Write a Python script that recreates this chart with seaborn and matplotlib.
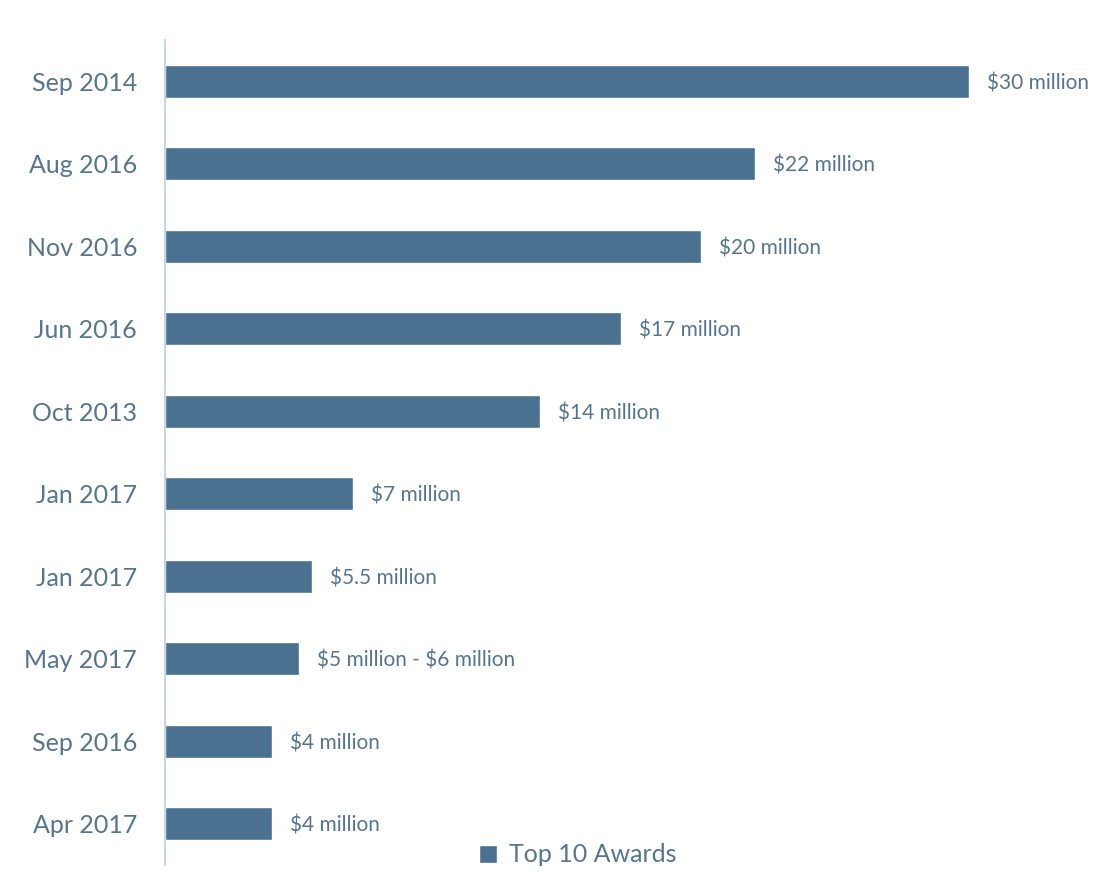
import matplotlib
matplotlib.use("Agg")
import matplotlib.pyplot as plt
import seaborn as sns
import pandas as pd

dates = ["Sep 2014", "Aug 2016", "Nov 2016", "Jun 2016", "Oct 2013",
         "Jan 2017", "Jan 2017", "May 2017", "Sep 2016", "Apr 2017"]
amounts = [30, 22, 20, 17, 14, 7, 5.5, 5, 4, 4]
amount_labels = ["$30 million", "$22 million", "$20 million", "$17 million",
                 "$14 million", "$7 million", "$5.5 million",
                 "$5 million - $6 million", "$4 million", "$4 million"]
series_name = "Top 10 Awards"

bar_color = "#4b7190"
text_color = "#56758e"
spine_color = "#b9cfe2"

sns.set_style("white")
plt.rcParams["font.family"] = ["Lato", "DejaVu Sans"]
plt.rcParams["text.parse_math"] = False

df = pd.DataFrame({
    "rank": list(range(len(dates))),
    "amount": amounts,
    "series": [series_name] * len(dates),
})

fig = plt.figure(figsize=(11.14, 8.92), dpi=100)
ax = fig.add_axes([165 / 1114, 1 - 865 / 892, (969 - 165) / 1114, 825 / 892])

sns.barplot(data=df, x="amount", y="rank", hue="series", orient="h",
            palette=[bar_color], width=0.4, saturation=1, ax=ax,
            legend=True)

ax.set_xlim(0, 30)
ax.set_ylim(len(dates) - 0.5, -0.5)
ax.set_yticks(range(len(dates)))
ax.set_yticklabels(dates, fontsize=18, color=text_color)
ax.tick_params(axis="y", length=0, pad=20)
ax.set_xticks([])
ax.set_xlabel("")
ax.set_ylabel("")

for s in ["top", "right", "bottom"]:
    ax.spines[s].set_visible(False)
ax.spines["left"].set_color(spine_color)
ax.spines["left"].set_linewidth(1.2)

for i, (v, lab) in enumerate(zip(amounts, amount_labels)):
    ax.annotate(lab, xy=(v, i), xytext=(13, -1.5), textcoords="offset points",
                va="center", ha="left", fontsize=15, color=text_color,
                annotation_clip=False)

ax.legend(loc="center", bbox_to_anchor=(578 / 1114, 1 - 855 / 892),
          bbox_transform=fig.transFigure, frameon=False, fontsize=18,
          handlelength=0.7, handleheight=0.7, handletextpad=0.5,
          labelcolor=text_color)

fig.savefig("out.png", dpi=100)
